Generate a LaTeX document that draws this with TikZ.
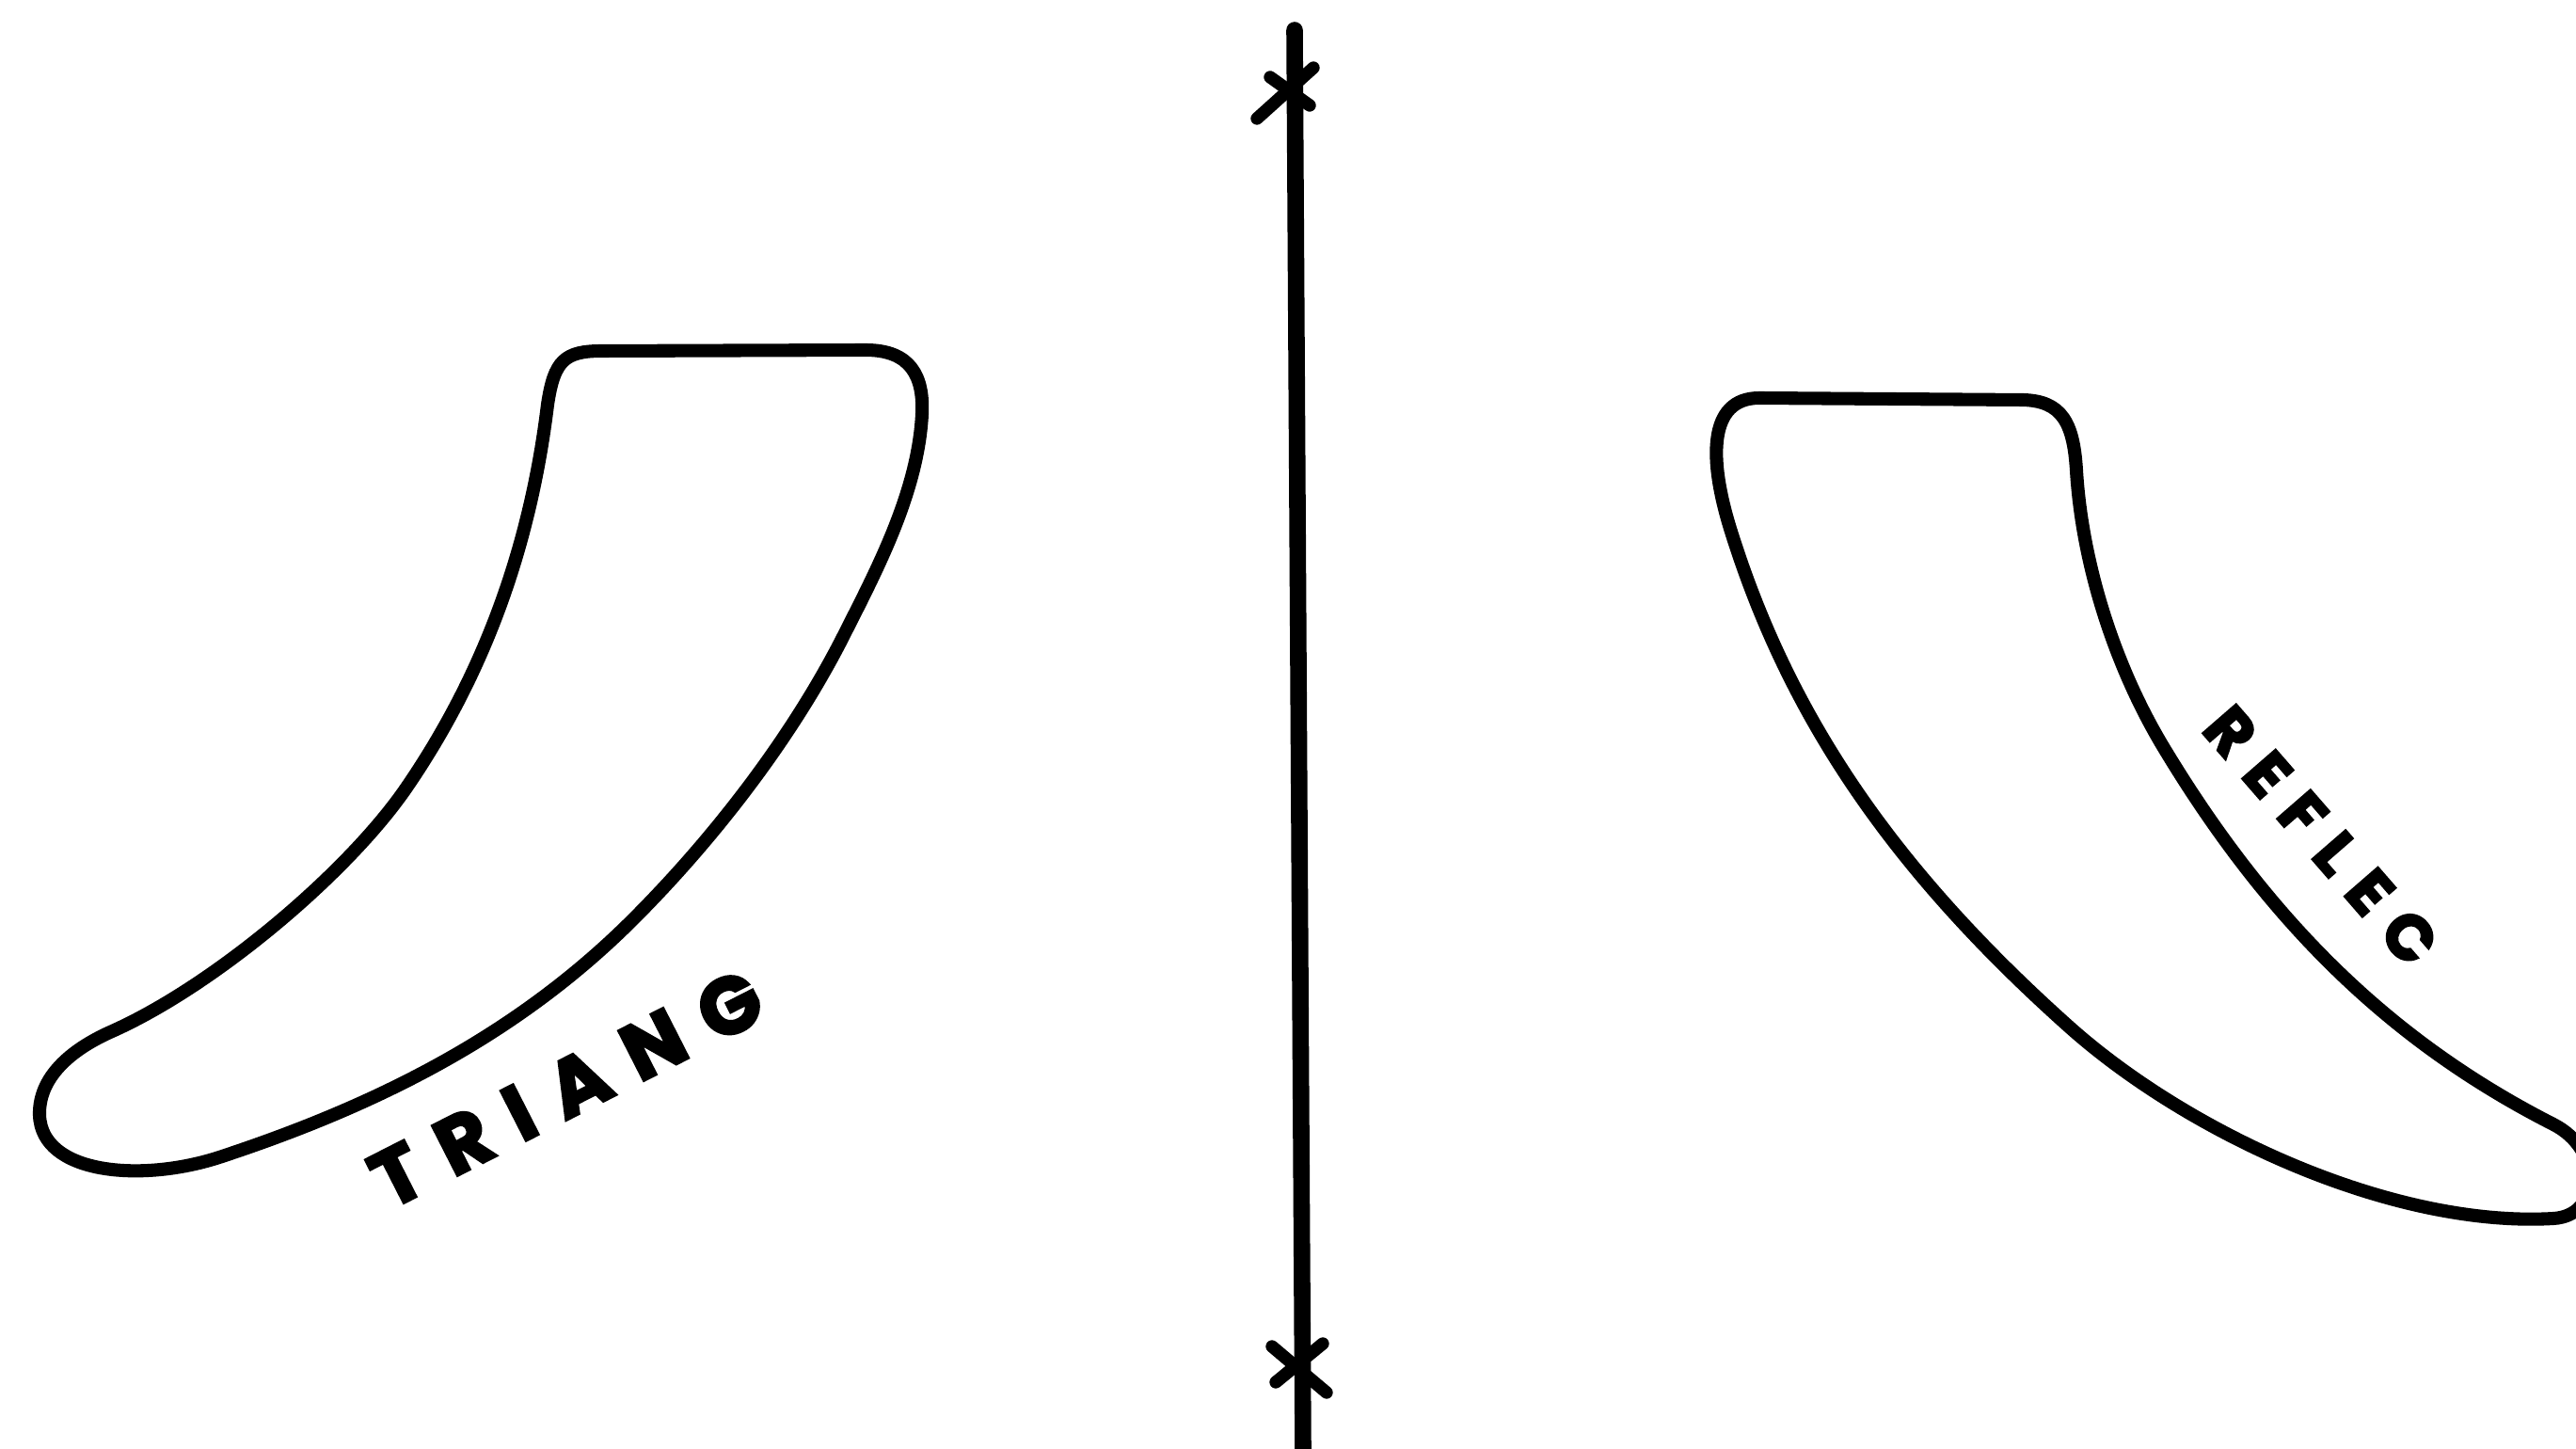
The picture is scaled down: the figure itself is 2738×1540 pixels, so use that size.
\documentclass[tikz,border=0pt]{standalone}
\usepackage{fontspec}
\setmainfont{Liberation Sans}
\newfontfamily\lblfont{Poppins}[FakeBold=3.5]
\tikzset{
  outline/.style={line width=4pt, line join=round, line cap=round},
  mirror/.style={line width=5pt, line cap=round},
  xmark/.style={line width=3.8pt, line cap=round},
  lbl/.style={inner sep=0pt}
}
\newcommand{\gp}{\kern7.6pt}
\newcommand{\gq}{\kern5.8pt}
\begin{document}
\begin{tikzpicture}[x=0.01cm, y=-0.01cm]
\useasboundingbox (0,0) rectangle (2738,1540);
% left horn
\draw[outline] (640,373) -- (920,372)
  .. controls (968,372) and (982,400) .. (980,440)
  .. controls (976,520) and (935,600) .. (900,669)
  .. controls (845,780) and (760,890) .. (673,977)
  .. controls (546,1104) and (394,1177) .. (233,1230)
  .. controls (150,1257) and (44,1248) .. (42,1185)
  .. controls (41,1145) and (75,1116) .. (117,1097)
  .. controls (226,1049) and (367,930) .. (430,840)
  .. controls (520,710) and (565,570) .. (582,430)
  .. controls (589,383) and (600,373) .. (640,373) -- cycle;
% mirror line
\coordinate (mtop) at (1376,32);
\coordinate (mbot) at (1385,1540);
\draw[mirror] (mtop) -- (mbot);
\coordinate (x1a) at (1336,126); \coordinate (x1b) at (1396,72);
\coordinate (x1c) at (1350,82);  \coordinate (x1d) at (1392,112);
\draw[xmark] (x1a) -- (x1b);
\draw[xmark] (x1c) -- (x1d);
\coordinate (x2a) at (1352,1431); \coordinate (x2b) at (1410,1480);
\coordinate (x2c) at (1406,1428); \coordinate (x2d) at (1356,1469);
\draw[xmark] (x2a) -- (x2b);
\draw[xmark] (x2c) -- (x2d);
% right horn
\draw[outline] (1870,423) -- (2150,425)
  .. controls (2192,426) and (2204,450) .. (2207,500)
  .. controls (2213,600) and (2248,709) .. (2300,795)
  .. controls (2414,984) and (2545,1109) .. (2714,1195)
  .. controls (2767,1222) and (2765,1292) .. (2714,1295)
  .. controls (2544,1305) and (2327,1205) .. (2200,1092)
  .. controls (2006,919) and (1900,756) .. (1840,565)
  .. controls (1816,489) and (1815,423) .. (1870,423) -- cycle;
% labels
\node[lbl, rotate=27, font=\lblfont\bfseries\fontsize{24}{24}\selectfont] (triang) at (602,1157) {T\gp R\gp I\gp A\gp N\gp G};
\node[lbl, rotate=-49, font=\lblfont\bfseries\fontsize{19}{19}\selectfont] (reflec) at (2467,888) {R\gq E\gq F\gq L\gq E\gq C};
\end{tikzpicture}
\end{document}
